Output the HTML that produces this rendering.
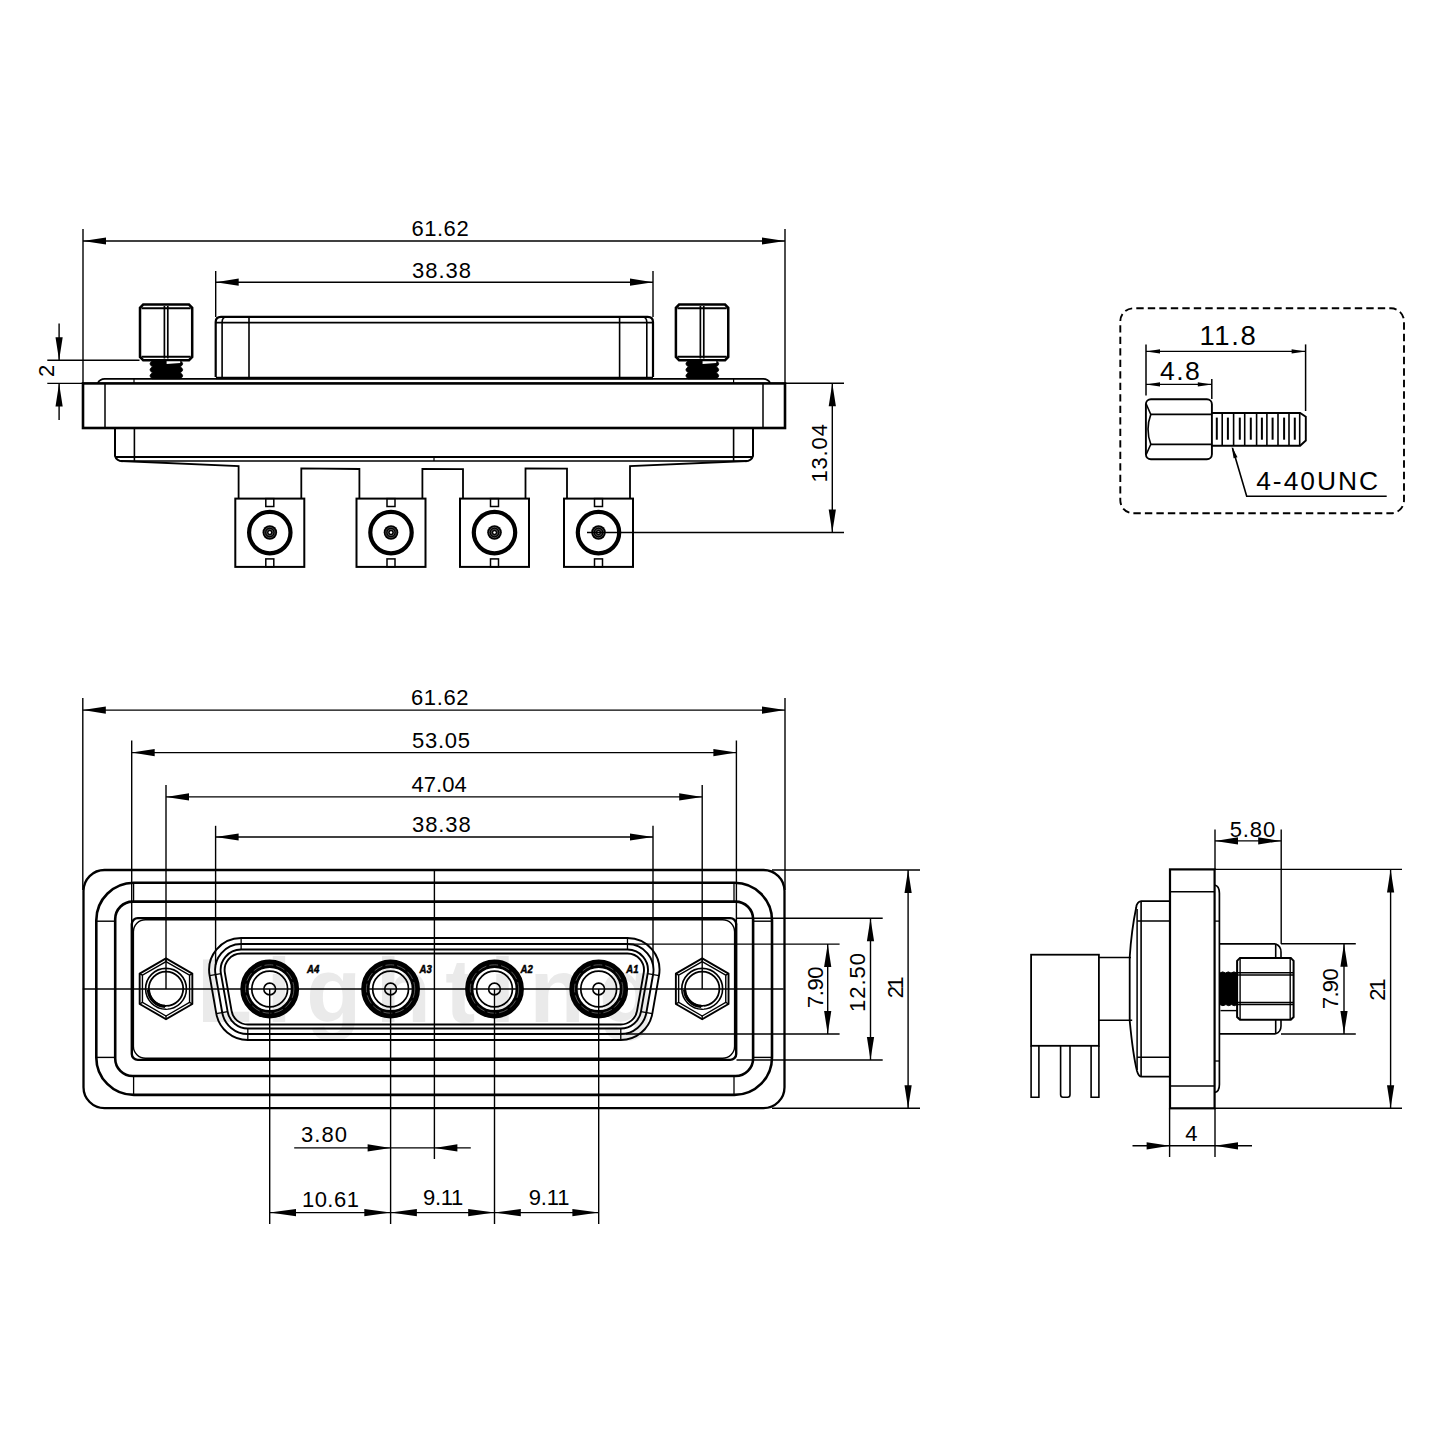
<!DOCTYPE html>
<html><head><meta charset="utf-8"><style>
html,body{margin:0;padding:0;background:#fff;}
svg{display:block;}
text{stroke:none;fill:#000;font-family:"Liberation Sans",sans-serif;}
.lab{font-weight:bold;font-style:italic;stroke:#000;stroke-width:0.5px;}
</style></head><body>
<svg width="1440" height="1440" viewBox="0 0 1440 1440" stroke-linecap="butt" stroke="#000">
<text x="197" y="1022" font-size="90" class="wm" style="fill:#eaeaea;font-weight:bold" letter-spacing="14.6">Lighting</text>
<line x1="83.00" y1="229.00" x2="83.00" y2="383.00" stroke-width="1.4"/>
<line x1="785.00" y1="229.00" x2="785.00" y2="383.00" stroke-width="1.4"/>
<line x1="83.00" y1="241.00" x2="785.00" y2="241.00" stroke-width="1.4"/>
<polygon points="83.00,241.00 106.00,237.40 106.00,244.60" fill="#000" stroke="none"/>
<polygon points="785.00,241.00 762.00,237.40 762.00,244.60" fill="#000" stroke="none"/>
<text x="411.40" y="236.25" font-size="22" class="t" letter-spacing="0.55">61.62</text>
<line x1="215.70" y1="271.00" x2="215.70" y2="317.00" stroke-width="1.4"/>
<line x1="653.00" y1="271.00" x2="653.00" y2="317.00" stroke-width="1.4"/>
<line x1="215.70" y1="282.20" x2="653.00" y2="282.20" stroke-width="1.4"/>
<polygon points="215.70,282.20 238.70,278.60 238.70,285.80" fill="#000" stroke="none"/>
<polygon points="653.00,282.20 630.00,278.60 630.00,285.80" fill="#000" stroke="none"/>
<text x="412.10" y="277.90" font-size="22" class="t" letter-spacing="0.95">38.38</text>
<path d="M143.2,304.6 H189.0 L192.2,307.8 V357.0 L189.0,360.2 H143.2 L140,357.0 V307.8 Z" stroke-width="2.5" fill="none" />
<line x1="141.50" y1="308.20" x2="190.70" y2="308.20" stroke-width="2.0"/>
<line x1="141.50" y1="356.80" x2="190.70" y2="356.80" stroke-width="2.0"/>
<line x1="164.40" y1="306.00" x2="164.40" y2="358.50" stroke-width="1.7"/>
<line x1="167.80" y1="306.00" x2="167.80" y2="358.50" stroke-width="1.7"/>
<path d="M152.5,360.8 H180.2 Q185.2,363.80 180.2,366.80 Q185.2,369.80 180.2,372.80 Q185.2,375.80 180.2,378.80 H152.5 Q147.5,375.80 152.5,372.80 Q147.5,369.80 152.5,366.80 Q147.5,363.80 152.5,360.80 Z" stroke-width="0.8" fill="#000" />
<polygon points="166.60,361.3 180.20,361.3 180.20,363 166.60,364" fill="#fff" stroke="none"/>
<path d="M679.1,304.6 H725.05 L728.25,307.8 V357.0 L725.05,360.2 H679.1 L675.9,357.0 V307.8 Z" stroke-width="2.5" fill="none" />
<line x1="677.40" y1="308.20" x2="726.75" y2="308.20" stroke-width="2.0"/>
<line x1="677.40" y1="356.80" x2="726.75" y2="356.80" stroke-width="2.0"/>
<line x1="700.38" y1="306.00" x2="700.38" y2="358.50" stroke-width="1.7"/>
<line x1="703.78" y1="306.00" x2="703.78" y2="358.50" stroke-width="1.7"/>
<path d="M688.4,360.8 H716.25 Q721.25,363.80 716.25,366.80 Q721.25,369.80 716.25,372.80 Q721.25,375.80 716.25,378.80 H688.4 Q683.4,375.80 688.4,372.80 Q683.4,369.80 688.4,366.80 Q683.4,363.80 688.4,360.80 Z" stroke-width="0.8" fill="#000" />
<polygon points="702.58,361.3 716.25,361.3 716.25,363 702.58,364" fill="#fff" stroke="none"/>
<line x1="47.30" y1="360.30" x2="139.50" y2="360.30" stroke-width="1.4"/>
<line x1="47.30" y1="383.40" x2="83.00" y2="383.40" stroke-width="1.4"/>
<line x1="59.10" y1="323.60" x2="59.10" y2="360.30" stroke-width="1.4"/>
<polygon points="59.10,360.30 55.50,337.30 62.70,337.30" fill="#000" stroke="none"/>
<line x1="59.10" y1="383.40" x2="59.10" y2="419.90" stroke-width="1.4"/>
<polygon points="59.10,383.40 55.50,406.40 62.70,406.40" fill="#000" stroke="none"/>
<text x="53.75" y="376.90" font-size="22" class="t" letter-spacing="0.00" transform="rotate(-90 53.75 376.90)">2</text>
<path d="M215.7,377 V322 Q215.7,316.8 221,316.8 H647.7 Q653,316.8 653,322 V377" stroke-width="2.2" fill="none" />
<line x1="215.90" y1="322.70" x2="653.00" y2="322.70" stroke-width="1.7"/>
<line x1="249.00" y1="316.80" x2="249.00" y2="377.00" stroke-width="1.6"/>
<line x1="619.60" y1="316.80" x2="619.60" y2="377.00" stroke-width="1.6"/>
<path d="M222.1,377 V322 Q222.1,316.8 227.5,316.8" stroke-width="1.6" fill="none" />
<path d="M646.8,377 V322 Q646.8,316.8 641.4,316.8" stroke-width="1.6" fill="none" />
<line x1="215.90" y1="378.00" x2="653.00" y2="378.00" stroke-width="2.6"/>
<path d="M97.8,383 Q100,378.9 104.7,378.9 H763.3 Q768,378.9 770.2,383" stroke-width="1.7" fill="none" />
<line x1="134.00" y1="378.90" x2="134.00" y2="383.40" stroke-width="1.2"/>
<line x1="733.60" y1="378.90" x2="733.60" y2="383.40" stroke-width="1.2"/>
<rect x="83.00" y="383.40" width="702.00" height="44.60" rx="0" stroke-width="2.6" fill="none"/>
<line x1="105.00" y1="383.40" x2="105.00" y2="428.00" stroke-width="1.5"/>
<line x1="763.00" y1="383.40" x2="763.00" y2="428.00" stroke-width="1.5"/>
<path d="M115,428 V456 Q116.5,461 122.5,461.2" stroke-width="2.0" fill="none" />
<path d="M753,428 V456 Q751.5,461 745.5,461.2" stroke-width="2.0" fill="none" />
<line x1="134.40" y1="428.00" x2="134.40" y2="461.00" stroke-width="1.6"/>
<line x1="733.60" y1="428.00" x2="733.60" y2="461.00" stroke-width="1.6"/>
<line x1="115.00" y1="457.00" x2="753.00" y2="457.00" stroke-width="2.0"/>
<line x1="121.00" y1="461.00" x2="747.00" y2="461.00" stroke-width="1.6"/>
<line x1="434.00" y1="457.00" x2="434.00" y2="461.00" stroke-width="1.2"/>
<polyline points="121.00,461.00 238.60,466.20 238.60,498.60" stroke-width="1.8" fill="none"/>
<polyline points="301.30,498.60 301.30,468.30 359.40,469.00 359.40,498.60" stroke-width="1.8" fill="none"/>
<polyline points="422.40,498.60 422.40,469.00 463.00,469.20 463.00,498.60" stroke-width="1.8" fill="none"/>
<polyline points="525.50,498.60 525.50,468.30 567.00,468.60 567.00,498.60" stroke-width="1.8" fill="none"/>
<polyline points="630.00,498.60 630.00,466.00 747.00,461.00" stroke-width="1.8" fill="none"/>
<rect x="235.30" y="498.60" width="69.00" height="68.30" rx="0" stroke-width="2.0" fill="none"/>
<rect x="265.80" y="498.60" width="8.00" height="7.90" rx="0" stroke-width="1.5" fill="none"/>
<rect x="265.80" y="558.90" width="8.00" height="8.00" rx="0" stroke-width="1.5" fill="none"/>
<circle cx="269.80" cy="532.60" r="20.70" stroke-width="4.2" fill="none"/>
<circle cx="269.80" cy="532.50" r="7.30" stroke-width="0" fill="#000"/>
<circle cx="269.80" cy="532.5" r="5.2" stroke="#555" stroke-width="0.8" fill="none"/>
<circle cx="269.80" cy="532.5" r="3.2" stroke="#666" stroke-width="0.8" fill="none"/>
<circle cx="269.80" cy="532.50" r="1.20" stroke-width="0" fill="#fff"/>
<rect x="356.50" y="498.60" width="69.00" height="68.30" rx="0" stroke-width="2.0" fill="none"/>
<rect x="387.00" y="498.60" width="8.00" height="7.90" rx="0" stroke-width="1.5" fill="none"/>
<rect x="387.00" y="558.90" width="8.00" height="8.00" rx="0" stroke-width="1.5" fill="none"/>
<circle cx="391.00" cy="532.60" r="20.70" stroke-width="4.2" fill="none"/>
<circle cx="391.00" cy="532.50" r="7.30" stroke-width="0" fill="#000"/>
<circle cx="391.00" cy="532.5" r="5.2" stroke="#555" stroke-width="0.8" fill="none"/>
<circle cx="391.00" cy="532.5" r="3.2" stroke="#666" stroke-width="0.8" fill="none"/>
<circle cx="391.00" cy="532.50" r="1.20" stroke-width="0" fill="#fff"/>
<rect x="460.00" y="498.60" width="69.00" height="68.30" rx="0" stroke-width="2.0" fill="none"/>
<rect x="490.50" y="498.60" width="8.00" height="7.90" rx="0" stroke-width="1.5" fill="none"/>
<rect x="490.50" y="558.90" width="8.00" height="8.00" rx="0" stroke-width="1.5" fill="none"/>
<circle cx="494.50" cy="532.60" r="20.70" stroke-width="4.2" fill="none"/>
<circle cx="494.50" cy="532.50" r="7.30" stroke-width="0" fill="#000"/>
<circle cx="494.50" cy="532.5" r="5.2" stroke="#555" stroke-width="0.8" fill="none"/>
<circle cx="494.50" cy="532.5" r="3.2" stroke="#666" stroke-width="0.8" fill="none"/>
<circle cx="494.50" cy="532.50" r="1.20" stroke-width="0" fill="#fff"/>
<rect x="564.00" y="498.60" width="69.00" height="68.30" rx="0" stroke-width="2.0" fill="none"/>
<rect x="594.50" y="498.60" width="8.00" height="7.90" rx="0" stroke-width="1.5" fill="none"/>
<rect x="594.50" y="558.90" width="8.00" height="8.00" rx="0" stroke-width="1.5" fill="none"/>
<circle cx="598.50" cy="532.60" r="20.70" stroke-width="4.2" fill="none"/>
<circle cx="598.50" cy="532.50" r="7.30" stroke-width="0" fill="#000"/>
<circle cx="598.50" cy="532.5" r="5.2" stroke="#555" stroke-width="0.8" fill="none"/>
<circle cx="598.50" cy="532.5" r="3.2" stroke="#666" stroke-width="0.8" fill="none"/>
<circle cx="598.50" cy="532.50" r="1.20" stroke-width="0" fill="#fff"/>
<line x1="785.00" y1="383.30" x2="844.00" y2="383.30" stroke-width="1.4"/>
<line x1="587.00" y1="532.50" x2="844.00" y2="532.50" stroke-width="1.4"/>
<line x1="832.30" y1="383.30" x2="832.30" y2="532.50" stroke-width="1.4"/>
<polygon points="832.30,383.30 828.70,406.30 835.90,406.30" fill="#000" stroke="none"/>
<polygon points="832.30,532.50 828.70,509.50 835.90,509.50" fill="#000" stroke="none"/>
<text x="826.90" y="482.60" font-size="22" class="t" letter-spacing="0.87" transform="rotate(-90 826.90 482.60)">13.04</text>
<rect x="1120.3" y="308.3" width="283.7" height="205" rx="13" stroke-width="1.9" fill="none" stroke-dasharray="7.4 4.1" stroke-dashoffset="-3"/>
<line x1="1146.00" y1="344.40" x2="1146.00" y2="395.50" stroke-width="1.5"/>
<line x1="1305.60" y1="344.40" x2="1305.60" y2="411.00" stroke-width="1.5"/>
<line x1="1146.00" y1="351.40" x2="1305.60" y2="351.40" stroke-width="1.4"/>
<polygon points="1146.00,351.40 1160.00,349.20 1160.00,353.60" fill="#000" stroke="none"/>
<polygon points="1305.60,351.40 1291.60,349.20 1291.60,353.60" fill="#000" stroke="none"/>
<text x="1199.50" y="345.10" font-size="27.5" text-anchor="start" class="a" letter-spacing="1.6">11.8</text>
<line x1="1211.80" y1="379.00" x2="1211.80" y2="399.00" stroke-width="1.5"/>
<line x1="1146.00" y1="384.40" x2="1211.80" y2="384.40" stroke-width="1.4"/>
<polygon points="1146.00,384.40 1160.00,382.20 1160.00,386.60" fill="#000" stroke="none"/>
<polygon points="1211.80,384.40 1197.80,382.20 1197.80,386.60" fill="#000" stroke="none"/>
<text x="1160.00" y="379.60" font-size="26.5" text-anchor="start" class="a" letter-spacing="1.5">4.8</text>
<rect x="1145.90" y="399.20" width="66.00" height="60.00" rx="5" stroke-width="1.9" fill="none"/>
<line x1="1150.80" y1="414.40" x2="1211.90" y2="414.40" stroke-width="1.7"/>
<line x1="1150.80" y1="444.30" x2="1211.90" y2="444.30" stroke-width="1.7"/>
<path d="M1146.2,404 L1150.8,414.4 Q1145.2,429.3 1150.8,444.3 L1146.2,454.5" stroke-width="1.6" fill="none" />
<path d="M1211.9,413 H1300.1 L1305.8,416.8 V440.5 L1300.1,445.8 H1211.9" stroke-width="1.9" fill="none" />
<line x1="1222.20" y1="413.00" x2="1222.20" y2="445.80" stroke-width="1.6"/>
<line x1="1233.60" y1="413.00" x2="1233.60" y2="445.80" stroke-width="1.6"/>
<line x1="1244.70" y1="413.00" x2="1244.70" y2="445.80" stroke-width="1.6"/>
<line x1="1256.60" y1="413.00" x2="1256.60" y2="445.80" stroke-width="1.6"/>
<line x1="1266.90" y1="413.00" x2="1266.90" y2="445.80" stroke-width="1.6"/>
<line x1="1278.00" y1="413.00" x2="1278.00" y2="445.80" stroke-width="1.6"/>
<line x1="1289.00" y1="413.00" x2="1289.00" y2="445.80" stroke-width="1.6"/>
<line x1="1299.70" y1="413.00" x2="1299.70" y2="445.80" stroke-width="1.6"/>
<line x1="1216.80" y1="417.60" x2="1216.80" y2="439.70" stroke-width="2.0"/>
<line x1="1227.90" y1="417.60" x2="1227.90" y2="439.70" stroke-width="2.0"/>
<line x1="1239.80" y1="417.60" x2="1239.80" y2="439.70" stroke-width="2.0"/>
<line x1="1250.80" y1="417.60" x2="1250.80" y2="439.70" stroke-width="2.0"/>
<line x1="1261.90" y1="417.60" x2="1261.90" y2="439.70" stroke-width="2.0"/>
<line x1="1272.60" y1="417.60" x2="1272.60" y2="439.70" stroke-width="2.0"/>
<line x1="1284.10" y1="417.60" x2="1284.10" y2="439.70" stroke-width="2.0"/>
<line x1="1294.80" y1="417.60" x2="1294.80" y2="439.70" stroke-width="2.0"/>
<polyline points="1232.50,448.00 1246.70,496.20 1386.70,496.20" stroke-width="1.6" fill="none"/>
<polygon points="1231.7,446.6 1237.5,457.2 1233.6,458.3" fill="#000" stroke="none"/>
<text x="1256.20" y="490.00" font-size="26.4" text-anchor="start" class="a" letter-spacing="2">4-40UNC</text>
<line x1="82.80" y1="698.00" x2="82.80" y2="890.00" stroke-width="1.4"/>
<line x1="785.00" y1="698.00" x2="785.00" y2="890.00" stroke-width="1.4"/>
<line x1="82.80" y1="710.10" x2="785.00" y2="710.10" stroke-width="1.4"/>
<polygon points="82.80,710.10 105.80,706.50 105.80,713.70" fill="#000" stroke="none"/>
<polygon points="785.00,710.10 762.00,706.50 762.00,713.70" fill="#000" stroke="none"/>
<text x="411.00" y="705.00" font-size="22" class="t" letter-spacing="0.62">61.62</text>
<line x1="131.70" y1="740.50" x2="131.70" y2="925.00" stroke-width="1.4"/>
<line x1="736.40" y1="740.50" x2="736.40" y2="925.00" stroke-width="1.4"/>
<line x1="131.70" y1="752.60" x2="736.40" y2="752.60" stroke-width="1.4"/>
<polygon points="131.70,752.60 154.70,749.00 154.70,756.20" fill="#000" stroke="none"/>
<polygon points="736.40,752.60 713.40,749.00 713.40,756.20" fill="#000" stroke="none"/>
<text x="411.90" y="748.20" font-size="22" class="t" letter-spacing="0.78">53.05</text>
<line x1="166.00" y1="785.00" x2="166.00" y2="989.00" stroke-width="1.4"/>
<line x1="702.20" y1="785.00" x2="702.20" y2="989.00" stroke-width="1.4"/>
<line x1="166.00" y1="796.90" x2="702.20" y2="796.90" stroke-width="1.4"/>
<polygon points="166.00,796.90 189.00,793.30 189.00,800.50" fill="#000" stroke="none"/>
<polygon points="702.20,796.90 679.20,793.30 679.20,800.50" fill="#000" stroke="none"/>
<text x="411.60" y="792.20" font-size="22" class="t" letter-spacing="-0.00">47.04</text>
<line x1="215.60" y1="825.80" x2="215.60" y2="965.00" stroke-width="1.4"/>
<line x1="653.00" y1="825.80" x2="653.00" y2="965.00" stroke-width="1.4"/>
<line x1="215.60" y1="837.00" x2="653.00" y2="837.00" stroke-width="1.4"/>
<polygon points="215.60,837.00 238.60,833.40 238.60,840.60" fill="#000" stroke="none"/>
<polygon points="653.00,837.00 630.00,833.40 630.00,840.60" fill="#000" stroke="none"/>
<text x="412.00" y="832.30" font-size="22" class="t" letter-spacing="0.90">38.38</text>
<rect x="83.50" y="870.00" width="701.00" height="238.20" rx="21" stroke-width="2.3" fill="none"/>
<rect x="96.30" y="882.80" width="675.70" height="212.10" rx="37.5" stroke-width="2.6" fill="none"/>
<rect x="115.20" y="901.60" width="637.90" height="174.40" rx="17.5" stroke-width="2.6" fill="none"/>
<rect x="131.80" y="918.10" width="604.40" height="141.80" rx="6" stroke-width="2.4" fill="none"/>
<rect x="133.40" y="919.70" width="601.20" height="138.60" rx="12" stroke-width="1.4" fill="none"/>
<line x1="96.30" y1="921.20" x2="115.20" y2="921.20" stroke-width="1.4"/>
<line x1="96.30" y1="1057.40" x2="115.20" y2="1057.40" stroke-width="1.4"/>
<line x1="753.10" y1="921.20" x2="772.00" y2="921.20" stroke-width="1.4"/>
<line x1="753.10" y1="1057.40" x2="772.00" y2="1057.40" stroke-width="1.4"/>
<line x1="133.60" y1="882.80" x2="133.60" y2="901.60" stroke-width="1.3"/>
<line x1="133.60" y1="1076.00" x2="133.60" y2="1094.90" stroke-width="1.3"/>
<line x1="734.00" y1="882.80" x2="734.00" y2="901.60" stroke-width="1.3"/>
<line x1="734.00" y1="1076.00" x2="734.00" y2="1094.90" stroke-width="1.3"/>
<line x1="82.80" y1="989.00" x2="783.60" y2="989.00" stroke-width="1.4"/>
<line x1="434.40" y1="871.00" x2="434.40" y2="1159.00" stroke-width="1.4"/>
<polygon points="166.00,958.40 192.33,973.60 192.33,1004.00 166.00,1019.20 139.67,1004.00 139.67,973.60" stroke-width="1.9" fill="none" stroke-linejoin="round"/>
<polygon points="166.00,961.60 189.56,975.20 189.56,1002.40 166.00,1016.00 142.44,1002.40 142.44,975.20" stroke-width="1.4" fill="none"/>
<line x1="166.00" y1="958.40" x2="166.00" y2="961.60" stroke-width="1.4"/>
<line x1="192.33" y1="973.60" x2="189.56" y2="975.20" stroke-width="1.4"/>
<line x1="192.33" y1="1004.00" x2="189.56" y2="1002.40" stroke-width="1.4"/>
<line x1="166.00" y1="1019.20" x2="166.00" y2="1016.00" stroke-width="1.4"/>
<line x1="139.67" y1="1004.00" x2="142.44" y2="1002.40" stroke-width="1.4"/>
<line x1="139.67" y1="973.60" x2="142.44" y2="975.20" stroke-width="1.4"/>
<circle cx="166.00" cy="988.80" r="20.40" stroke-width="1.6" fill="none"/>
<circle cx="166.00" cy="988.80" r="17.20" stroke-width="1.8" fill="none"/>
<path d="M148.4,989.8 A17.6 17.6 0 0 0 165,1006.4" stroke-width="3.2" fill="none" />
<line x1="166.30" y1="1007.60" x2="167.60" y2="1007.60" stroke="#fff" stroke-width="2.2"/>
<polygon points="702.20,958.40 728.53,973.60 728.53,1004.00 702.20,1019.20 675.87,1004.00 675.87,973.60" stroke-width="1.9" fill="none" stroke-linejoin="round"/>
<polygon points="702.20,961.60 725.76,975.20 725.76,1002.40 702.20,1016.00 678.64,1002.40 678.64,975.20" stroke-width="1.4" fill="none"/>
<line x1="702.20" y1="958.40" x2="702.20" y2="961.60" stroke-width="1.4"/>
<line x1="728.53" y1="973.60" x2="725.76" y2="975.20" stroke-width="1.4"/>
<line x1="728.53" y1="1004.00" x2="725.76" y2="1002.40" stroke-width="1.4"/>
<line x1="702.20" y1="1019.20" x2="702.20" y2="1016.00" stroke-width="1.4"/>
<line x1="675.87" y1="1004.00" x2="678.64" y2="1002.40" stroke-width="1.4"/>
<line x1="675.87" y1="973.60" x2="678.64" y2="975.20" stroke-width="1.4"/>
<circle cx="702.20" cy="988.80" r="20.40" stroke-width="1.6" fill="none"/>
<circle cx="702.20" cy="988.80" r="17.20" stroke-width="1.8" fill="none"/>
<path d="M684.6,989.8 A17.6 17.6 0 0 0 701.2,1006.4" stroke-width="3.2" fill="none" />
<line x1="702.50" y1="1007.60" x2="703.80" y2="1007.60" stroke="#fff" stroke-width="2.2"/>
<path d="M241.13,938.00 L627.47,938.00 A32.00,32.00 0 0 1 658.99,975.55 L652.30,1013.55 A32.00,32.00 0 0 1 620.78,1040.00 L247.82,1040.00 A32.00,32.00 0 0 1 216.30,1013.55 L209.61,975.55 A32.00,32.00 0 0 1 241.13,938.00 Z" stroke-width="1.9" fill="none" />
<path d="M241.13,944.00 L627.47,944.00 A26.00,26.00 0 0 1 653.08,974.51 L646.39,1012.51 A26.00,26.00 0 0 1 620.78,1034.00 L247.82,1034.00 A26.00,26.00 0 0 1 222.21,1012.51 L215.52,974.51 A26.00,26.00 0 0 1 241.13,944.00 Z" stroke-width="1.9" fill="none" />
<path d="M241.13,949.50 L627.47,949.50 A20.50,20.50 0 0 1 647.66,973.55 L640.97,1011.55 A20.50,20.50 0 0 1 620.78,1028.50 L247.82,1028.50 A20.50,20.50 0 0 1 227.63,1011.55 L220.94,973.55 A20.50,20.50 0 0 1 241.13,949.50 Z" stroke-width="1.9" fill="none" />
<path d="M241.13,953.50 L627.47,953.50 A16.50,16.50 0 0 1 643.72,972.86 L637.03,1010.86 A16.50,16.50 0 0 1 620.78,1024.50 L247.82,1024.50 A16.50,16.50 0 0 1 231.57,1010.86 L224.88,972.86 A16.50,16.50 0 0 1 241.13,953.50 Z" stroke-width="1.9" fill="none" />
<line x1="241.13" y1="938.00" x2="241.13" y2="949.50" stroke-width="1.3"/>
<line x1="627.47" y1="938.00" x2="627.47" y2="949.50" stroke-width="1.3"/>
<line x1="658.99" y1="975.55" x2="647.66" y2="973.55" stroke-width="1.3"/>
<line x1="652.30" y1="1013.55" x2="640.97" y2="1011.55" stroke-width="1.3"/>
<line x1="620.78" y1="1040.00" x2="620.78" y2="1028.50" stroke-width="1.3"/>
<line x1="247.82" y1="1040.00" x2="247.82" y2="1028.50" stroke-width="1.3"/>
<line x1="216.30" y1="1013.55" x2="227.63" y2="1011.55" stroke-width="1.3"/>
<line x1="209.61" y1="975.55" x2="220.94" y2="973.55" stroke-width="1.3"/>
<circle cx="269.70" cy="989.00" r="25.25" stroke-width="8.3" fill="none"/>
<circle cx="269.70" cy="989" r="24.2" stroke="#777" stroke-width="0.7" fill="none" stroke-dasharray="9 3"/>
<circle cx="269.70" cy="989.00" r="17.90" stroke-width="1.7" fill="none"/>
<circle cx="269.70" cy="989.00" r="5.90" stroke-width="1.6" fill="none"/>
<line x1="269.70" y1="989.00" x2="269.70" y2="1224.00" stroke-width="1.4"/>
<circle cx="390.60" cy="989.00" r="25.25" stroke-width="8.3" fill="none"/>
<circle cx="390.60" cy="989" r="24.2" stroke="#777" stroke-width="0.7" fill="none" stroke-dasharray="9 3"/>
<circle cx="390.60" cy="989.00" r="17.90" stroke-width="1.7" fill="none"/>
<circle cx="390.60" cy="989.00" r="5.90" stroke-width="1.6" fill="none"/>
<line x1="390.60" y1="989.00" x2="390.60" y2="1224.00" stroke-width="1.4"/>
<circle cx="494.50" cy="989.00" r="25.25" stroke-width="8.3" fill="none"/>
<circle cx="494.50" cy="989" r="24.2" stroke="#777" stroke-width="0.7" fill="none" stroke-dasharray="9 3"/>
<circle cx="494.50" cy="989.00" r="17.90" stroke-width="1.7" fill="none"/>
<circle cx="494.50" cy="989.00" r="5.90" stroke-width="1.6" fill="none"/>
<line x1="494.50" y1="989.00" x2="494.50" y2="1224.00" stroke-width="1.4"/>
<circle cx="598.70" cy="989.00" r="25.25" stroke-width="8.3" fill="none"/>
<circle cx="598.70" cy="989" r="24.2" stroke="#777" stroke-width="0.7" fill="none" stroke-dasharray="9 3"/>
<circle cx="598.70" cy="989.00" r="17.90" stroke-width="1.7" fill="none"/>
<circle cx="598.70" cy="989.00" r="5.90" stroke-width="1.6" fill="none"/>
<line x1="598.70" y1="989.00" x2="598.70" y2="1224.00" stroke-width="1.4"/>
<text x="307.00" y="973.20" font-size="11.2" text-anchor="start" class="lab" textLength="12.2" lengthAdjust="spacingAndGlyphs">A4</text>
<text x="419.50" y="973.20" font-size="11.2" text-anchor="start" class="lab" textLength="12.2" lengthAdjust="spacingAndGlyphs">A3</text>
<text x="520.60" y="973.20" font-size="11.2" text-anchor="start" class="lab" textLength="12.2" lengthAdjust="spacingAndGlyphs">A2</text>
<text x="626.30" y="973.20" font-size="11.2" text-anchor="start" class="lab" textLength="12.2" lengthAdjust="spacingAndGlyphs">A1</text>
<line x1="626.00" y1="944.10" x2="839.60" y2="944.10" stroke-width="1.4"/>
<line x1="626.00" y1="1034.00" x2="839.60" y2="1034.00" stroke-width="1.4"/>
<line x1="827.70" y1="944.10" x2="827.70" y2="1034.00" stroke-width="1.4"/>
<polygon points="827.70,944.10 824.10,967.10 831.30,967.10" fill="#000" stroke="none"/>
<polygon points="827.70,1034.00 824.10,1011.00 831.30,1011.00" fill="#000" stroke="none"/>
<text x="822.60" y="1007.90" font-size="22" class="t" letter-spacing="-0.50" transform="rotate(-90 822.60 1007.90)">7.90</text>
<line x1="736.50" y1="918.30" x2="882.70" y2="918.30" stroke-width="1.4"/>
<line x1="736.50" y1="1060.00" x2="882.70" y2="1060.00" stroke-width="1.4"/>
<line x1="870.50" y1="918.30" x2="870.50" y2="1060.00" stroke-width="1.4"/>
<polygon points="870.50,918.30 866.90,941.30 874.10,941.30" fill="#000" stroke="none"/>
<polygon points="870.50,1060.00 866.90,1037.00 874.10,1037.00" fill="#000" stroke="none"/>
<text x="865.30" y="1011.90" font-size="22" class="t" letter-spacing="0.98" transform="rotate(-90 865.30 1011.90)">12.50</text>
<line x1="772.00" y1="870.00" x2="920.00" y2="870.00" stroke-width="1.4"/>
<line x1="772.00" y1="1108.20" x2="920.00" y2="1108.20" stroke-width="1.4"/>
<line x1="908.10" y1="870.00" x2="908.10" y2="1108.20" stroke-width="1.4"/>
<polygon points="908.10,870.00 904.50,893.00 911.70,893.00" fill="#000" stroke="none"/>
<polygon points="908.10,1108.20 904.50,1085.20 911.70,1085.20" fill="#000" stroke="none"/>
<text x="902.80" y="998.20" font-size="22" class="t" letter-spacing="-2.80" transform="rotate(-90 902.80 998.20)">21</text>
<line x1="294.20" y1="1147.90" x2="470.80" y2="1147.90" stroke-width="1.4"/>
<polygon points="390.60,1147.90 367.60,1144.30 367.60,1151.50" fill="#000" stroke="none"/>
<polygon points="434.40,1147.90 457.40,1144.30 457.40,1151.50" fill="#000" stroke="none"/>
<text x="300.90" y="1142.40" font-size="22" class="t" letter-spacing="1.07">3.80</text>
<line x1="269.70" y1="1212.60" x2="390.60" y2="1212.60" stroke-width="1.4"/>
<polygon points="269.70,1212.60 296.00,1209.00 296.00,1216.20" fill="#000" stroke="none"/>
<polygon points="390.60,1212.60 364.30,1209.00 364.30,1216.20" fill="#000" stroke="none"/>
<text x="301.90" y="1207.40" font-size="22" class="t" letter-spacing="0.50">10.61</text>
<line x1="390.60" y1="1212.60" x2="494.50" y2="1212.60" stroke-width="1.4"/>
<polygon points="390.60,1212.60 416.90,1209.00 416.90,1216.20" fill="#000" stroke="none"/>
<polygon points="494.50,1212.60 468.20,1209.00 468.20,1216.20" fill="#000" stroke="none"/>
<text x="423.00" y="1205.00" font-size="22" class="t" letter-spacing="-0.30">9.11</text>
<line x1="494.50" y1="1212.60" x2="598.70" y2="1212.60" stroke-width="1.4"/>
<polygon points="494.50,1212.60 520.80,1209.00 520.80,1216.20" fill="#000" stroke="none"/>
<polygon points="598.70,1212.60 572.40,1209.00 572.40,1216.20" fill="#000" stroke="none"/>
<text x="528.80" y="1205.00" font-size="22" class="t" letter-spacing="-0.17">9.11</text>
<rect x="1170.00" y="869.40" width="44.60" height="238.90" rx="0" stroke-width="2.2" fill="none"/>
<line x1="1170.00" y1="891.70" x2="1214.60" y2="891.70" stroke-width="1.6"/>
<line x1="1170.00" y1="1086.00" x2="1214.60" y2="1086.00" stroke-width="1.6"/>
<path d="M1214.6,885 Q1219.4,886 1219.4,893.3 V1084.4 Q1219.4,1091.5 1214.6,1092.5" stroke-width="1.7" fill="none" />
<line x1="1214.60" y1="921.10" x2="1219.40" y2="921.10" stroke-width="1.3"/>
<line x1="1214.60" y1="1061.00" x2="1219.40" y2="1061.00" stroke-width="1.3"/>
<line x1="1219.90" y1="943.80" x2="1275.70" y2="943.80" stroke-width="1.7"/>
<line x1="1219.90" y1="1033.90" x2="1275.70" y2="1033.90" stroke-width="1.7"/>
<line x1="1275.70" y1="943.80" x2="1275.70" y2="958.00" stroke-width="1.6"/>
<line x1="1275.70" y1="1019.80" x2="1275.70" y2="1033.90" stroke-width="1.6"/>
<path d="M1275.7,944 Q1281,946 1281,952 V958" stroke-width="1.6" fill="none" />
<path d="M1275.7,1033.7 Q1281,1032 1281,1026 V1019.8" stroke-width="1.6" fill="none" />
<path d="M1240,957.9 H1290.8 L1293.6,960.8 V1017 L1290.8,1019.8 H1240 L1237.1,1017 V960.8 Z" stroke-width="2.0" fill="none" />
<line x1="1237.10" y1="972.80" x2="1293.60" y2="972.80" stroke-width="1.5"/>
<line x1="1237.10" y1="974.90" x2="1293.60" y2="974.90" stroke-width="1.5"/>
<line x1="1237.10" y1="1002.60" x2="1293.60" y2="1002.60" stroke-width="1.5"/>
<line x1="1237.10" y1="1004.60" x2="1293.60" y2="1004.60" stroke-width="1.5"/>
<line x1="1240.10" y1="958.00" x2="1240.10" y2="1019.80" stroke-width="1.4"/>
<line x1="1290.20" y1="958.00" x2="1290.20" y2="1019.80" stroke-width="1.4"/>
<path d="M1219.9,973 Q1222.7,970.8 1225.5,973 Q1228.3,970.8 1231,973 Q1233.8,970.8 1237.1,973 V1004.6 Q1234.3,1006.8 1231.5,1004.6 Q1228.7,1006.8 1225.9,1004.6 Q1223,1006.8 1219.9,1004.6 Z" stroke-width="1.0" fill="#000" />
<line x1="1220.50" y1="1010.60" x2="1237.10" y2="1010.60" stroke-width="1.4"/>
<line x1="1215.00" y1="829.40" x2="1215.00" y2="869.40" stroke-width="1.4"/>
<line x1="1281.20" y1="829.40" x2="1281.20" y2="944.00" stroke-width="1.4"/>
<line x1="1215.00" y1="840.90" x2="1281.20" y2="840.90" stroke-width="1.4"/>
<polygon points="1215.00,840.90 1238.00,837.30 1238.00,844.50" fill="#000" stroke="none"/>
<polygon points="1281.20,840.90 1258.20,837.30 1258.20,844.50" fill="#000" stroke="none"/>
<text x="1229.70" y="836.60" font-size="22" class="t" letter-spacing="0.90">5.80</text>
<line x1="1281.00" y1="943.80" x2="1355.80" y2="943.80" stroke-width="1.4"/>
<line x1="1281.00" y1="1034.00" x2="1355.80" y2="1034.00" stroke-width="1.4"/>
<line x1="1344.00" y1="943.80" x2="1344.00" y2="1034.00" stroke-width="1.4"/>
<polygon points="1344.00,943.80 1340.40,966.80 1347.60,966.80" fill="#000" stroke="none"/>
<polygon points="1344.00,1034.00 1340.40,1011.00 1347.60,1011.00" fill="#000" stroke="none"/>
<text x="1338.50" y="1009.10" font-size="22" class="t" letter-spacing="-0.70" transform="rotate(-90 1338.50 1009.10)">7.90</text>
<line x1="1214.60" y1="869.40" x2="1402.00" y2="869.40" stroke-width="1.4"/>
<line x1="1214.60" y1="1108.30" x2="1402.00" y2="1108.30" stroke-width="1.4"/>
<line x1="1390.60" y1="869.40" x2="1390.60" y2="1108.30" stroke-width="1.4"/>
<polygon points="1390.60,869.40 1387.00,892.40 1394.20,892.40" fill="#000" stroke="none"/>
<polygon points="1390.60,1108.30 1387.00,1085.30 1394.20,1085.30" fill="#000" stroke="none"/>
<text x="1385.00" y="1000.80" font-size="22" class="t" letter-spacing="-2.20" transform="rotate(-90 1385.00 1000.80)">21</text>
<path d="M1169.6,901.2 H1141.2 Q1136.8,902 1136.2,907.5 Q1131.5,930 1129.7,957.2 V1020.6 Q1133,1055 1137,1071 Q1138.6,1076.7 1141.5,1076.7 H1169.6" stroke-width="1.8" fill="none" />
<line x1="1137.10" y1="909.00" x2="1137.10" y2="1070.00" stroke-width="1.5"/>
<line x1="1141.10" y1="902.00" x2="1141.10" y2="1076.70" stroke-width="1.6"/>
<line x1="1137.10" y1="921.10" x2="1169.60" y2="921.10" stroke-width="1.5"/>
<line x1="1137.10" y1="1057.20" x2="1169.60" y2="1057.20" stroke-width="1.5"/>
<rect x="1031.10" y="954.70" width="67.80" height="91.10" rx="0" stroke-width="1.8" fill="none"/>
<line x1="1098.90" y1="957.50" x2="1131.00" y2="957.50" stroke-width="1.5"/>
<line x1="1098.90" y1="1020.30" x2="1132.20" y2="1020.30" stroke-width="1.5"/>
<polyline points="1031.10,1045.80 1031.10,1097.20 1038.90,1097.20 1038.90,1045.80" stroke-width="1.6" fill="none"/>
<polyline points="1091.10,1045.80 1091.10,1097.20 1098.90,1097.20 1098.90,1045.80" stroke-width="1.6" fill="none"/>
<path d="M1060.6,1045.8 V1094.5 Q1060.6,1097.2 1063,1097.2 H1067.6 Q1070,1097.2 1070,1094.5 V1045.8" stroke-width="1.6" fill="none" />
<line x1="1169.60" y1="1108.30" x2="1169.60" y2="1157.00" stroke-width="1.4"/>
<line x1="1215.00" y1="1108.30" x2="1215.00" y2="1157.00" stroke-width="1.4"/>
<line x1="1132.50" y1="1145.80" x2="1252.00" y2="1145.80" stroke-width="1.4"/>
<polygon points="1169.60,1145.80 1146.60,1142.20 1146.60,1149.40" fill="#000" stroke="none"/>
<polygon points="1215.00,1145.80 1238.00,1142.20 1238.00,1149.40" fill="#000" stroke="none"/>
<text x="1185.30" y="1141.10" font-size="22" class="t" letter-spacing="0.00">4</text>
</svg></body></html>
